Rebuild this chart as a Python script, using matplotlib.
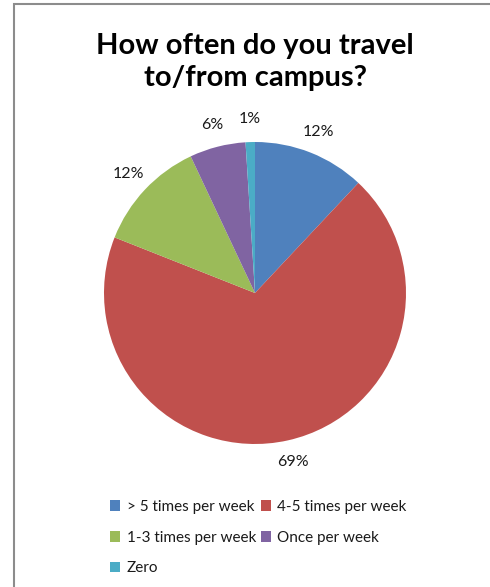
import matplotlib.pyplot as plt
from matplotlib.patches import Rectangle

# Survey answers, share of respondents in percent
categories = ['> 5 times per week', '4-5 times per week', '1-3 times per week',
              'Once per week', 'Zero']
shares = [12, 69, 12, 6, 1]
colors = ['#4F81BD', '#C0504D', '#9BBB59', '#8064A2', '#4BACC6']

plt.rcParams['font.family'] = ['Lato', 'DejaVu Sans']

W, H = 490, 587
fig = plt.figure(figsize=(W / 100, H / 100), dpi=100)

# Chart frame (runs off the right and bottom edges)
fig.patches.append(Rectangle((14 / W, -0.01), 1.0, (H - 4) / H + 0.01,
                             transform=fig.transFigure, fill=False,
                             edgecolor='#8c8c8c', linewidth=1.5))

fig.text(255 / W, 1 - 62 / H, 'How often do you travel\nto/from campus?',
         ha='center', va='center', fontsize=21, fontweight='bold',
         linespacing=1.3)

# Pie placed by pixel centre and radius
cx, cy, r = 255, 293, 151
ax = fig.add_axes([(cx - r) / W, (H - cy - r) / H, 2 * r / W, 2 * r / H])
wedges, texts = ax.pie(shares, colors=colors, startangle=90, counterclock=False,
                       labels=[f'{v}%' for v in shares], labeldistance=1.15,
                       textprops={'fontsize': 11.5, 'color': '#1a1a1a'})
for t in texts:
    t.set_ha('center')
    t.set_va('center')
    t.set_clip_on(False)
ax.set_xlim(-1, 1)
ax.set_ylim(-1, 1)
ax.set_aspect('equal')

# Legend: two columns filled row by row
order = [0, 2, 4, 1, 3]
fig.legend([wedges[i] for i in order], [categories[i] for i in order],
           ncol=2, loc='upper left', bbox_to_anchor=(96 / W, 1 - 486 / H),
           frameon=False, fontsize=11, handlelength=0.7, handleheight=0.7,
           handletextpad=0.4, columnspacing=0.3, labelspacing=1.1,
           labelcolor='#1a1a1a')

fig.savefig('out.png', dpi=100)
